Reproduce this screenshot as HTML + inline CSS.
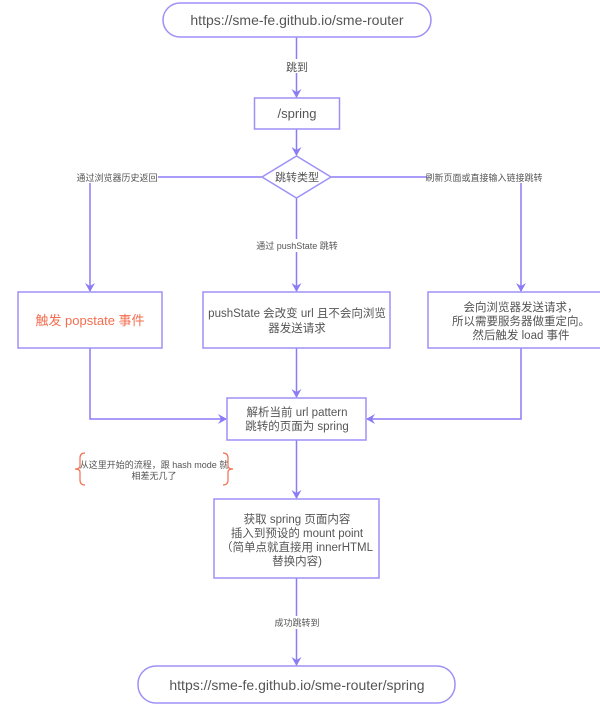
<!DOCTYPE html>
<html><head><meta charset="utf-8"><style>
html,body{margin:0;padding:0;background:#fff;}
svg{display:block;}
text{font-family:"Liberation Sans","Noto Sans CJK SC",sans-serif;fill:#555;}
</style></head><body>
<svg width="600" height="705" viewBox="0 0 600 705" xmlns="http://www.w3.org/2000/svg">
<defs>
<marker id="a" markerWidth="10" markerHeight="10" refX="8" refY="5" orient="auto" markerUnits="userSpaceOnUse">
<path d="M0,0 L9,5 L0,10 L3,5 Z" fill="#8b7cf6"/></marker>
</defs>
<g stroke="#8b7cf6" stroke-width="1.5" fill="none">
<line x1="296.5" y1="37" x2="296.5" y2="97" marker-end="url(#a)"/>
<line x1="296.5" y1="129" x2="296.5" y2="155" marker-end="url(#a)"/>
<polyline points="262,177 90,177 90,291" marker-end="url(#a)"/>
<polyline points="331,177 521,177 521,291" marker-end="url(#a)"/>
<line x1="296.5" y1="198" x2="296.5" y2="291" marker-end="url(#a)"/>
<polyline points="90,348 90,419 226,419" marker-end="url(#a)"/>
<polyline points="521,348 521,419 367,419" marker-end="url(#a)"/>
<line x1="296.5" y1="348" x2="296.5" y2="397" marker-end="url(#a)"/>
<line x1="296.5" y1="440" x2="296.5" y2="498" marker-end="url(#a)"/>
<line x1="296.5" y1="578" x2="296.5" y2="665" marker-end="url(#a)"/>
</g>
<g stroke="#9d90f7" stroke-width="1.5" fill="#fff">
<rect x="163" y="3" width="268" height="34" rx="17"/>
<rect x="254.5" y="98" width="85" height="31"/>
<polygon points="296.5,156 331,177 296.5,198 262,177"/>
<rect x="18" y="292" width="144" height="56"/>
<rect x="203" y="292" width="187" height="56"/>
<rect x="428" y="292" width="180" height="56"/>
<rect x="227" y="398" width="139" height="42"/>
<rect x="214" y="499" width="165" height="79"/>
<rect x="138" y="666" width="317" height="37" rx="18"/>
</g>
<g fill="#fff">
<rect x="283" y="59" width="27" height="14"/>
<rect x="77" y="171" width="81" height="12"/>
<rect x="427" y="171" width="115" height="12"/>
<rect x="253" y="239" width="87" height="13"/>
<rect x="273" y="616" width="47" height="13"/>
</g>
<g text-anchor="middle">
<text x="297" y="25" font-size="14">https://sme-fe.github.io/sme-router</text>
<text x="297" y="71" font-size="11">跳到</text>
<text x="297" y="118" font-size="13">/spring</text>
<text x="297" y="181" font-size="11">跳转类型</text>
<text x="117" y="181" font-size="9">通过浏览器历史返回</text>
<text x="484" y="181" font-size="9">刷新页面或直接输入链接跳转</text>
<text x="297" y="249" font-size="9">通过 pushState 跳转</text>
<text x="90" y="325" font-size="13" style="fill:#f36d4e">触发 popstate 事件</text>
<text x="297" y="317" font-size="11.5">pushState 会改变 url 且不会向浏览</text>
<text x="297" y="332" font-size="11.5">器发送请求</text>
<text x="521" y="311" font-size="11.5">会向浏览器发送请求，</text>
<text x="521" y="325" font-size="11.5">所以需要服务器做重定向。</text>
<text x="521" y="339" font-size="11.5">然后触发 load 事件</text>
<text x="297" y="416" font-size="11.5">解析当前 url pattern</text>
<text x="297" y="430" font-size="11.5">跳转的页面为 spring</text>
<text x="297" y="523" font-size="11.5">获取 spring 页面内容</text>
<text x="297" y="537" font-size="11.5">插入到预设的 mount point</text>
<text x="297" y="551" font-size="11.5">（简单点就直接用 innerHTML</text>
<text x="297" y="565" font-size="11.5">替换内容)</text>
<text x="297" y="626" font-size="9">成功跳转到</text>
<text x="297" y="690" font-size="14">https://sme-fe.github.io/sme-router/spring</text>
<text x="154" y="468" font-size="9">从这里开始的流程，跟 hash mode 就</text>
<text x="154" y="479" font-size="9">相差无几了</text>
</g>
<g stroke="#f36d4e" stroke-width="1.2" fill="none">
<path d="M85,453 Q80,453 80,458 L80,466 Q80,469 75,469 Q80,469 80,472 L80,480 Q80,485 85,485"/>
<path d="M223,453 Q228,453 228,458 L228,466 Q228,469 233,469 Q228,469 228,472 L228,480 Q228,485 223,485"/>
</g>
</svg>
</body></html>
